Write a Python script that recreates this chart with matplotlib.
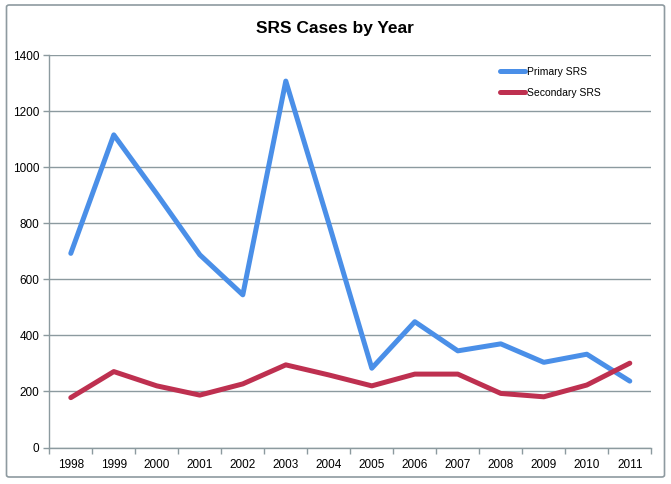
import matplotlib.pyplot as plt
from matplotlib.patches import FancyBboxPatch

years = ['1998', '1999', '2000', '2001', '2002', '2003', '2004',
         '2005', '2006', '2007', '2008', '2009', '2010', '2011']
primary = [693, 1116, 905, 688, 545, 1308, 800, 283, 449, 345, 370, 304, 333, 237]
secondary = [178, 271, 220, 187, 227, 295, 259, 220, 262, 262, 193, 181, 223, 301]
yticks = [0, 200, 400, 600, 800, 1000, 1200, 1400]

plt.rcParams['font.family'] = ['Liberation Sans', 'DejaVu Sans']
grid_col = '#8c9a9f'

fig = plt.figure(figsize=(6.71, 4.84), dpi=100)
# outer chart border
fig.patches.append(FancyBboxPatch((6.5 / 671, 7 / 484), 658 / 671, 472 / 484,
                                  boxstyle='round,pad=0,rounding_size=0.004',
                                  transform=fig.transFigure, fill=False,
                                  edgecolor='#8e9aa0', linewidth=1.2))

ax = fig.add_axes([49.3 / 671, 36.5 / 484, 602 / 671, 392.2 / 484])
x = list(range(len(years)))
ax.plot(x, primary, color='#4a8fe8', linewidth=3.6, label='Primary SRS',
        solid_joinstyle='round', solid_capstyle='round')
ax.plot(x, secondary, color='#be3050', linewidth=3.6, label='Secondary SRS',
        solid_joinstyle='round', solid_capstyle='round')

ax.set_xlim(-0.5, len(years) - 0.5)
ax.set_ylim(0, 1400)
ax.set_yticks(yticks)
ax.set_yticklabels([str(v) for v in yticks], fontsize=8.5)
ax.set_xticks(x)
ax.set_xticklabels(years, fontsize=8.5)
ax.set_xticks([i - 0.5 for i in range(len(years) + 1)], minor=True)
ax.tick_params(axis='x', which='major', length=0, pad=8)
ax.tick_params(axis='x', which='minor', length=4, color=grid_col, width=1)
ax.tick_params(axis='y', length=4, color=grid_col, width=1, pad=3)
ax.yaxis.grid(True, color=grid_col, linewidth=1)
ax.set_axisbelow(True)
for s in ['top', 'right']:
    ax.spines[s].set_visible(False)
for s in ['left', 'bottom']:
    ax.spines[s].set_color(grid_col)
    ax.spines[s].set_linewidth(1)

fig.text(335 / 671, 1 - 29 / 484, 'SRS Cases by Year', ha='center', va='center',
         fontsize=12.5, fontweight='bold')

ax.legend(loc='upper left', bbox_to_anchor=(0.749, 0.971), frameon=False,
          fontsize=7.5, handlelength=2.4, handletextpad=0.2, borderpad=0,
          borderaxespad=0, labelspacing=1.1)

fig.savefig('out.png', dpi=100, facecolor='white')
